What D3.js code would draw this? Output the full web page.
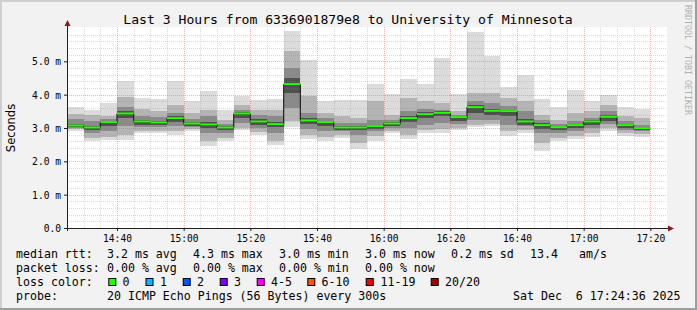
<!DOCTYPE html>
<html><head><meta charset="utf-8">
<script src="https://cdn.jsdelivr.net/npm/d3@7"></script>
<style>body{margin:0;background:#f2f2f2}svg{display:block}</style>
</head><body><svg id="c" width="697" height="310"></svg>
<script>
// ---- data (ms) ----
const barStart = ["14:25","14:30","14:35","14:40","14:45","14:50","14:55","15:00","15:05","15:10","15:15","15:20","15:25","15:30","15:35","15:40","15:45","15:50","15:55","16:00","16:05","16:10","16:15","16:20","16:25","16:30","16:35","16:40","16:45","16:50","16:55","17:00","17:05","17:10","17:15"];
const medianMs = [3.06,3.00,3.16,3.42,3.18,3.15,3.28,3.12,3.09,3.00,3.42,3.18,3.10,4.30,3.21,3.16,3.00,3.00,3.04,3.12,3.28,3.40,3.44,3.31,3.61,3.50,3.49,3.18,3.07,3.01,3.07,3.18,3.32,3.07,2.98];
const minMs = [2.92,2.60,2.63,2.63,2.85,2.85,2.80,2.92,2.46,2.60,2.94,2.80,2.49,3.02,2.66,2.60,2.70,2.37,2.60,2.85,2.67,2.86,2.86,2.94,3.04,3.06,2.76,2.85,2.32,2.61,2.66,2.74,2.92,2.76,2.74];
const maxMs = [3.63,3.54,3.76,4.40,3.91,3.88,4.40,3.80,4.12,3.54,3.95,3.85,3.88,5.91,5.04,3.80,3.85,3.85,4.32,4.01,4.48,4.32,5.10,4.02,5.88,5.17,4.23,4.60,3.88,3.63,4.14,3.81,3.99,3.63,3.58];
const lo1 = [2.96,2.70,2.72,2.80,2.92,2.92,2.90,2.96,2.62,2.70,3.00,2.88,2.62,3.20,2.80,2.72,2.80,2.55,2.75,2.92,2.80,2.95,2.98,3.00,3.10,3.12,2.90,2.95,2.55,2.70,2.75,2.85,3.00,2.85,2.82];
const hi1 = [3.42,3.40,3.36,3.94,3.56,3.50,3.70,3.45,3.55,3.25,3.70,3.55,3.55,5.30,3.95,3.45,3.35,3.30,3.80,3.40,3.90,3.80,3.75,3.50,4.05,4.05,3.90,3.80,3.40,3.25,3.45,3.50,3.70,3.35,3.30];
const lo2 = [3.00,2.85,2.90,3.05,3.02,3.02,3.05,3.02,2.85,2.85,3.15,3.00,2.85,3.60,2.98,2.92,2.90,2.80,2.90,3.00,3.00,3.10,3.15,3.12,3.25,3.25,3.10,3.05,2.85,2.85,2.90,3.00,3.12,2.95,2.90];
const hi2 = [3.26,3.22,3.28,3.62,3.36,3.32,3.45,3.28,3.35,3.12,3.55,3.38,3.35,4.80,3.45,3.30,3.15,3.15,3.25,3.25,3.50,3.58,3.55,3.40,3.80,3.75,3.65,3.50,3.25,3.12,3.22,3.30,3.50,3.20,3.10];
const lo3 = [3.03,2.95,3.05,3.30,3.10,3.08,3.18,3.07,3.00,2.95,3.30,3.10,3.02,4.05,3.12,3.06,2.95,2.94,2.98,3.06,3.18,3.30,3.35,3.22,3.45,3.40,3.35,3.10,2.98,2.95,3.00,3.10,3.22,3.00,2.94];
const hi3 = [3.12,3.07,3.22,3.50,3.25,3.22,3.36,3.18,3.18,3.06,3.48,3.26,3.18,4.50,3.30,3.22,3.06,3.06,3.10,3.18,3.36,3.48,3.50,3.36,3.68,3.58,3.55,3.28,3.14,3.06,3.12,3.24,3.40,3.12,3.04];
const xTickLabels = ["14:40","15:00","15:20","15:40","16:00","16:20","16:40","17:00","17:20"];
const yTickValues = [0,1,2,3,4,5];
const yTickLabels = ["0.0","1.0 m","2.0 m","3.0 m","4.0 m","5.0 m"];
const lossLabels = ["0","1","2","3","4-5","6-10","11-19","20/20"];
const lossColors = ["#26ff00","#00b8ff","#0059ff","#7e00ff","#ff00ff","#ff5500","#ff0000","#a10000"];
const bandColors = ["#dcdcdc","#b4b4b4","#8a8a8a","#505050"];

const toMin = s => { const [h,m] = s.split(":").map(Number); return h*60+m; };
const svg = d3.select("#c");
const W = 697, H = 310;
const L = 67, R = 667, T = 27, B = 228;
const x = d3.scaleLinear().domain([toMin("14:25"), toMin("17:25")]).range([L, R]);
const y = d3.scaleLinear().domain([0, 6]).range([B, 28]);
const mono = "'DejaVu Sans Mono', monospace";

// background + frame
svg.append("rect").attr("width",W).attr("height",H).attr("fill","#f2f2f2");
svg.append("rect").attr("x",0).attr("y",0).attr("width",W).attr("height",2).attr("fill","#cfcfcf");
svg.append("rect").attr("x",0).attr("y",0).attr("width",2).attr("height",H).attr("fill","#cfcfcf");
svg.append("rect").attr("x",0).attr("y",H-2).attr("width",W).attr("height",2).attr("fill","#9e9e9e");
svg.append("rect").attr("x",W-2).attr("y",0).attr("width",2).attr("height",H).attr("fill","#9e9e9e");
// canvas
svg.append("rect").attr("x",L).attr("y",T).attr("width",R-L).attr("height",B-T).attr("fill","#ffffff");

const bars = barStart.map((s,i)=>({t0: toMin(s), t1: toMin(s)+5, med: medianMs[i],
  bands: [[minMs[i],maxMs[i]],[lo1[i],hi1[i]],[lo2[i],hi2[i]],[lo3[i],hi3[i]]]}));

const gBars = svg.append("g");
bandColors.forEach((c,k)=>{
  gBars.selectAll(null).data(bars).enter().append("rect")
    .attr("x", d=>x(d.t0)).attr("width", d=>x(d.t1)-x(d.t0))
    .attr("y", d=>y(d.bands[k][1])).attr("height", d=>y(d.bands[k][0])-y(d.bands[k][1]))
    .attr("fill", c).attr("shape-rendering","crispEdges");
});

// grid (on top, as rrdtool)
const gGrid = svg.append("g").attr("shape-rendering","crispEdges");
for (let v = 0.2; v < 6.0; v += 0.2) {
  const major = Math.abs(v - Math.round(v)) < 1e-6;
  gGrid.append("line").attr("x1",L).attr("x2",R).attr("y1",Math.round(y(v))+0.5).attr("y2",Math.round(y(v))+0.5)
    .attr("stroke", major ? "rgba(222,79,79,0.42)" : "rgba(143,143,143,0.32)").attr("stroke-dasharray","1,1");
}
for (let t = toMin("14:30"); t < toMin("17:25"); t += 5) {
  const major = t % 20 === 0;
  gGrid.append("line").attr("y1",T).attr("y2",B).attr("x1",Math.round(x(t))+0.5).attr("x2",Math.round(x(t))+0.5)
    .attr("stroke", major ? "rgba(222,79,79,0.42)" : "rgba(143,143,143,0.32)").attr("stroke-dasharray","1,1");
}

// median step line (black) + green loss-coloured segments
const stepPts = [];
bars.forEach(d=>{ stepPts.push([x(d.t0), y(d.med)]); stepPts.push([x(d.t1), y(d.med)]); });
svg.append("path").attr("d", d3.line()(stepPts)).attr("fill","none").attr("stroke","#202020").attr("stroke-width",1.2);
svg.append("g").selectAll("line").data(bars).enter().append("line")
  .attr("x1", d=>x(d.t0)).attr("x2", d=>x(d.t1))
  .attr("y1", d=>y(d.med)-0.5).attr("y2", d=>y(d.med)-0.5)
  .attr("stroke", lossColors[0]).attr("stroke-width",2);

// axes
const axisCol = "#1f1f1f";
const yAxis = d3.axisLeft(y).tickValues(yTickValues).tickSize(3).tickFormat((d,i)=>yTickLabels[i]);
const gy = svg.append("g").attr("transform",`translate(${L},0)`).call(yAxis);
gy.select(".domain").remove();
gy.selectAll(".tick line").attr("stroke",axisCol);
gy.selectAll(".tick text").attr("font-family",mono).attr("font-size","9.6px").attr("fill","#000").attr("x",-6).attr("dy","0.36em");

const xTickVals = xTickLabels.map(toMin);
const xAxis = d3.axisBottom(x).tickValues(xTickVals).tickSize(3).tickFormat((d,i)=>xTickLabels[i]);
const gx = svg.append("g").attr("transform",`translate(0,${B})`).call(xAxis);
gx.select(".domain").remove();
gx.selectAll(".tick line").attr("stroke",axisCol);
gx.selectAll(".tick text").attr("font-family",mono).attr("font-size","9.6px").attr("fill","#000").attr("y",7).attr("dy","0.71em");

svg.append("line").attr("x1",L+0.5).attr("x2",L+0.5).attr("y1",B+3).attr("y2",24).attr("stroke",axisCol);
svg.append("line").attr("x1",L-3).attr("x2",670).attr("y1",B+0.5).attr("y2",B+0.5).attr("stroke",axisCol);
svg.append("path").attr("d",`M${L-2.5},26 L${L+0.5},20 L${L+3.5},26 Z`).attr("fill","#801f1f");
svg.append("path").attr("d",`M668,${B-2.5} L674,${B+0.5} L668,${B+3.5} Z`).attr("fill","#801f1f");

// title, axis label, watermark
svg.append("text").attr("x",348).attr("y",23.5).attr("text-anchor","middle")
  .attr("font-family",mono).attr("font-size","13.1px").text("Last 3 Hours from 6336901879e8 to University of Minnesota");
svg.append("text").attr("transform","translate(15,128) rotate(-90)").attr("text-anchor","middle")
  .attr("font-family","'DejaVu Sans', sans-serif").attr("font-size","11.5px").text("Seconds");
svg.append("text").attr("transform","translate(685,5) rotate(90)").attr("text-anchor","start")
  .attr("font-family",mono).attr("font-size","8.3px").attr("fill","#b0b0b0").text("RRDTOOL / TOBI OETIKER");

// legend
const lf = "11.6px";
const legendRows = [
  {yy:258, items:[[16,"median rtt:"],[107,"3.2 ms avg"],[193,"4.3 ms max"],[279,"3.0 ms min"],[365,"3.0 ms now"],[451,"0.2 ms sd"],[530,"13.4"],[579,"am/s"]]},
  {yy:272, items:[[16,"packet loss:"],[107,"0.00 % avg"],[193,"0.00 % max"],[279,"0.00 % min"],[365,"0.00 % now"]]},
  {yy:285.7, items:[[16,"loss color:"]]},
  {yy:299.5, items:[[16,"probe:"],[107,"20 ICMP Echo Pings (56 Bytes) every 300s"],[513,"Sat Dec  6 17:24:36 2025"]]}
];
legendRows.forEach(r=>r.items.forEach(([xx,t])=>{
  svg.append("text").attr("x",xx).attr("y",r.yy).attr("font-family",mono).attr("font-size",lf)
    .attr("xml:space","preserve").style("white-space","pre").text(t);
}));
const boxX = [108.3,145.5,182.7,219.7,256.7,307.3,365.7,430.7];
const labX = [122.5,160,197,234,271,321.5,380.5,445];
lossLabels.forEach((lab,i)=>{
  svg.append("rect").attr("x",boxX[i]+0.5).attr("y",278.5).attr("width",7).attr("height",7)
    .attr("fill",lossColors[i]).attr("stroke","#000").attr("stroke-width",1);
  svg.append("text").attr("x",labX[i]).attr("y",285.7).attr("font-family",mono).attr("font-size",lf).text(lab);
});
</script></body></html>
